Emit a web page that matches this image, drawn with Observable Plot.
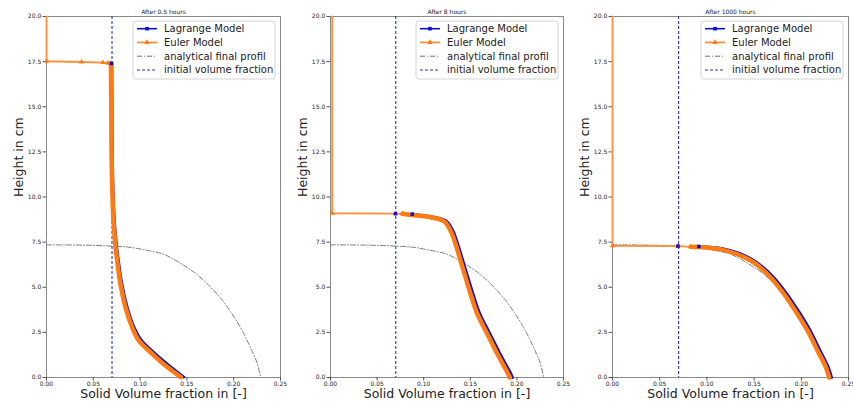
<!DOCTYPE html>
<html><head><meta charset="utf-8">
<script src="https://cdn.jsdelivr.net/npm/d3@7"></script>
<script src="https://cdn.jsdelivr.net/npm/@observablehq/plot@0.6"></script>
<style>
body{margin:0;background:#fff;font-family:"DejaVu Sans",sans-serif;}
#wrap{position:relative;width:853px;height:410px;overflow:hidden;}
#wrap svg{position:absolute;top:0;overflow:visible;}
</style></head><body><div id="wrap"></div>
<script>
// ---------- data ----------
const xTicks = [0, 0.05, 0.10, 0.15, 0.20, 0.25];
const yTicks = [0, 2.5, 5, 7.5, 10, 12.5, 15, 17.5, 20];
const initialFraction = 0.07;
const titles = ["After 0.5 hours", "After 8 hours", "After 1000 hours"];
const legendLabels = ["Lagrange Model", "Euler Model", "analytical final profil", "initial volume fraction"];
const xLabel = "Solid Volume fraction in [-]";
const yLabel = "Height in cm";

// analytical final profile [phi, h]
const analytical = [[0,7.35],[0.03,7.34],[0.05,7.32],[0.07,7.28],[0.088,7.22],[0.105,7.07],[0.124,6.85],[0.136,6.55],[0.148,6.17],[0.158,5.82],[0.168,5.38],[0.178,4.86],[0.188,4.27],[0.197,3.62],[0.206,2.88],[0.213,2.2],[0.220,1.42],[0.225,0.8],[0.2288,0]];

// After 0.5 hours
const euler05Surface = [[0,20],[0,17.52],[0.0374,17.48],[0.0602,17.45],[0.0655,17.42],[0.0684,17.40]];
const euler05Profile = [[0.0688,17.40],[0.0692,15],[0.0695,12.5],[0.0705,10],[0.0718,8.5],[0.0735,7.4],[0.0755,6.47],[0.079,5.18],[0.0844,3.89],[0.0915,2.78],[0.0986,2.05],[0.113,1.31],[0.127,0.66],[0.1435,0.02]];
const lag05Surface = [[0.0694,17.40]];
const lag05Profile = [[0.0698,17.40],[0.0700,15],[0.0703,12.5],[0.0713,10],[0.0728,8.5],[0.0746,7.4],[0.0768,6.47],[0.0805,5.18],[0.0862,3.89],[0.0935,2.78],[0.1008,2.1],[0.1153,1.35],[0.130,0.7],[0.1467,0.02]];

// After 8 hours
const euler8Surface = [[0.0018,20],[0.0018,9.1],[0.0697,9.08],[0.0772,9.07]];
const euler8Profile = [[0.0772,9.07],[0.0894,8.99],[0.1073,8.88],[0.1216,8.66],[0.1288,8.14],[0.1341,7.41],[0.1395,6.48],[0.1448,5.56],[0.1502,4.64],[0.1574,3.54],[0.1681,2.43],[0.1788,1.33],[0.1913,0.13],[0.1925,0]];
const lag8Surface = [[0.0697,9.08],[0.0877,9.05]];
const lag8Profile = [[0.0877,9.05],[0.092,9.02],[0.1095,8.9],[0.1238,8.68],[0.131,8.16],[0.1363,7.43],[0.1418,6.5],[0.1472,5.58],[0.1527,4.66],[0.16,3.56],[0.1707,2.45],[0.1815,1.35],[0.194,0.15],[0.1952,0]];

// After 1000 hours
const euler1000Surface = [[0,20],[0,7.3],[0.0694,7.28],[0.0828,7.24]];
const euler1000Profile = [[0.0828,7.24],[0.0935,7.22],[0.1147,7.1],[0.1324,6.83],[0.150,6.36],[0.1678,5.53],[0.1819,4.61],[0.1961,3.5],[0.2068,2.58],[0.2174,1.47],[0.2262,0.55],[0.2295,0]];
const lag1000Surface = [[0.0694,7.28],[0.0915,7.26]];
const lag1000Profile = [[0.0915,7.26],[0.1165,7.14],[0.1345,6.88],[0.152,6.4],[0.17,5.58],[0.1842,4.66],[0.1985,3.55],[0.2092,2.62],[0.2198,1.5],[0.2286,0.57],[0.232,0]];

// ---------- styles ----------
const BLUE = "#0a14c8", ORANGE = "#ff7a10", ORANGE_L = "#ff8f3a", GRAY = "#6e6e6e", NAVY = "#2b3aa6";

const panels = [
  {title: titles[0], left: 0,   width: 284, mr: 4, eS: euler05Surface,   eP: euler05Profile,   lS: lag05Surface,   lP: lag05Profile},
  {title: titles[1], left: 284, width: 284, mr: 5, eS: euler8Surface,    eP: euler8Profile,    lS: lag8Surface,    lP: lag8Profile},
  {title: titles[2], left: 566, width: 287, mr: 5, eS: euler1000Surface, eP: euler1000Profile, lS: lag1000Surface, lP: lag1000Profile}
];

const X = d => d[0], Y = d => d[1];
const wrap = document.getElementById("wrap");

for (const p of panels) {
  const svg = Plot.plot({
    width: p.width, height: 410,
    marginLeft: 46, marginRight: p.mr, marginTop: 16, marginBottom: 33,
    x: {domain: [0, 0.25]},
    y: {domain: [0, 20]},
    style: {fontFamily: "DejaVu Sans, sans-serif", fontSize: "6px", color: "#222", background: "transparent", overflow: "visible"},
    marks: [
      Plot.frame({stroke: "#8a8a8a", strokeWidth: 1}),
      Plot.axisX({ticks: xTicks, tickFormat: d3.format(".2f"), tickSize: 3.5, tickPadding: 0.5, label: null, fontSize: 6, stroke: "#555"}),
      Plot.axisY({ticks: yTicks, tickFormat: d3.format(".1f"), tickSize: 3.5, tickPadding: 1.8, label: null, fontSize: 6, stroke: "#555"}),
      Plot.line(analytical, {x: X, y: Y, stroke: GRAY, strokeWidth: 0.9, strokeDasharray: "5,2,1,2", curve: "catmull-rom"}),
      Plot.ruleX([initialFraction], {stroke: NAVY, strokeWidth: 1.1, strokeDasharray: "3,2"}),
      Plot.line(p.lP, {x: X, y: Y, stroke: BLUE, strokeWidth: 3, curve: "catmull-rom"}),
      Plot.line(p.eP, {x: X, y: Y, stroke: ORANGE, strokeWidth: 4.5, curve: "catmull-rom"}),
      Plot.line(p.eS, {x: X, y: Y, stroke: ORANGE_L, strokeWidth: 1.8}),
      Plot.dot(p.eS.filter(d => d[1] < 19.9), {x: X, y: Y, symbol: "triangle", r: 2, fill: ORANGE}),
      Plot.dot(p.lS, {x: X, y: Y, symbol: "square", r: 2, fill: BLUE}),
      Plot.text([p.title], {text: d => d, frameAnchor: "top", dy: -6.5, fontSize: 6, fill: "#222"}),
      Plot.text([xLabel], {text: d => d, frameAnchor: "bottom", dy: 20, fontSize: 12.5, fill: "#222"}),
      Plot.text([yLabel], {text: d => d, frameAnchor: "left", dx: -28, rotate: -90, fontSize: 12.5, fill: "#222"})
    ]
  });
  svg.style.left = p.left + "px";
  wrap.appendChild(svg);

  // legend
  const boxW = 142, boxH = 58;
  const boxLeft = p.width - p.mr - 5 - boxW, boxTop = 21;
  const g = d3.select(svg).append("g").attr("transform", `translate(${boxLeft},${boxTop})`)
    .attr("text-anchor", "start")
    .style("font-family", "DejaVu Sans, sans-serif").style("font-size", "10px");
  g.append("rect").attr("width", boxW).attr("height", boxH).attr("rx", 2.5)
    .attr("fill", "#fff").attr("fill-opacity", 0.85).attr("stroke", "#cfcfcf").attr("stroke-width", 0.9);
  const rowStyles = [
    {stroke: BLUE, width: 1.6, dash: null, marker: "square", mfill: BLUE},
    {stroke: ORANGE_L, width: 1.8, dash: null, marker: "triangle", mfill: ORANGE},
    {stroke: GRAY, width: 1, dash: "5,2,1,2", marker: null},
    {stroke: NAVY, width: 1.1, dash: "3,2", marker: null}
  ];
  legendLabels.forEach((lab, i) => {
    const s = rowStyles[i];
    const y = 7.7 + i * 13.75;
    const line = g.append("line").attr("x1", 4).attr("x2", 24).attr("y1", y).attr("y2", y)
      .attr("stroke", s.stroke).attr("stroke-width", s.width);
    if (s.dash) line.attr("stroke-dasharray", s.dash);
    if (s.marker) {
      const sym = d3.symbol().type(s.marker === "square" ? d3.symbolSquare : d3.symbolTriangle).size(13);
      g.append("path").attr("d", sym()).attr("transform", `translate(14,${y})`).attr("fill", s.mfill);
    }
    g.append("text").attr("x", 31).attr("y", y).attr("dy", "0.35em").attr("text-anchor", "start")
      .attr("fill", "#222").text(lab);
  });
}
</script></body></html>
